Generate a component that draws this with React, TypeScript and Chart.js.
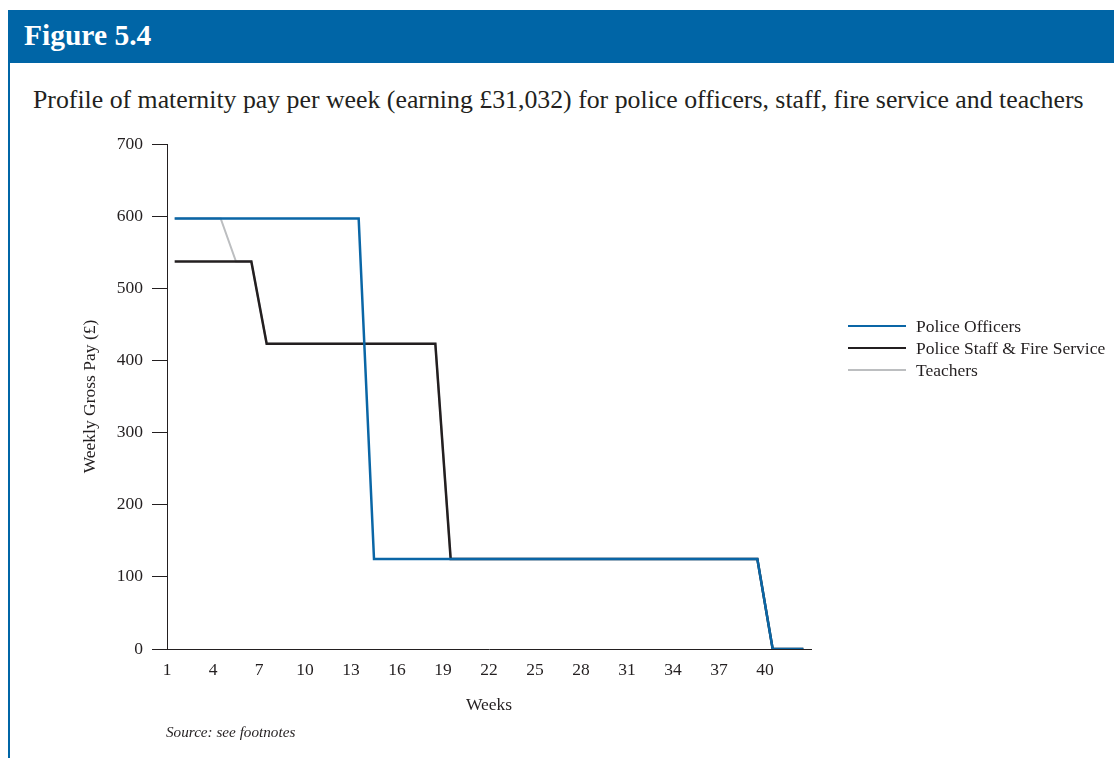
import React, { useEffect, useRef } from "react";
import { Chart, registerables } from "chart.js";

Chart.register(...registerables);

const weeks: number[] = [
  1, 2, 3, 4, 5, 6, 7, 8, 9, 10, 11, 12, 13, 14, 15, 16, 17, 18, 19, 20, 21,
  22, 23, 24, 25, 26, 27, 28, 29, 30, 31, 32, 33, 34, 35, 36, 37, 38, 39, 40,
  41, 42,
];

const policeOfficers: number[] = [
  596.77, 596.77, 596.77, 596.77, 596.77, 596.77, 596.77, 596.77, 596.77,
  596.77, 596.77, 596.77, 596.77, 124.88, 124.88, 124.88, 124.88, 124.88,
  124.88, 124.88, 124.88, 124.88, 124.88, 124.88, 124.88, 124.88, 124.88,
  124.88, 124.88, 124.88, 124.88, 124.88, 124.88, 124.88, 124.88, 124.88,
  124.88, 124.88, 124.88, 0, 0, 0,
];

const policeStaffFire: number[] = [
  537.09, 537.09, 537.09, 537.09, 537.09, 537.09, 423.26, 423.26, 423.26,
  423.26, 423.26, 423.26, 423.26, 423.26, 423.26, 423.26, 423.26, 423.26,
  124.88, 124.88, 124.88, 124.88, 124.88, 124.88, 124.88, 124.88, 124.88,
  124.88, 124.88, 124.88, 124.88, 124.88, 124.88, 124.88, 124.88, 124.88,
  124.88, 124.88, 124.88, 0, 0, 0,
];

const teachers: number[] = [
  596.77, 596.77, 596.77, 596.77, 537.09, 537.09, 423.26, 423.26, 423.26,
  423.26, 423.26, 423.26, 423.26, 423.26, 423.26, 423.26, 423.26, 423.26,
  124.88, 124.88, 124.88, 124.88, 124.88, 124.88, 124.88, 124.88, 124.88,
  124.88, 124.88, 124.88, 124.88, 124.88, 124.88, 124.88, 124.88, 124.88,
  124.88, 124.88, 124.88, 0, 0, 0,
];

const xTickLabels: string[] = [
  "1", "4", "7", "10", "13", "16", "19", "22", "25", "28", "31", "34", "37", "40",
];
const yTickValues: number[] = [0, 100, 200, 300, 400, 500, 600, 700];

const seriesNames: string[] = [
  "Police Officers",
  "Police Staff & Fire Service",
  "Teachers",
];
const seriesColors: string[] = ["#0a66a6", "#231f20", "#bcbec0"];

const FONT = "'Liberation Serif', 'Times New Roman', serif";
const TEXT = "#231f20";
const SMALL = 17.5;

export default function App() {
  const canvasRef = useRef<HTMLCanvasElement | null>(null);

  useEffect(() => {
    if (!canvasRef.current) return;
    const series = [policeOfficers, policeStaffFire, teachers];
    const chart = new Chart(canvasRef.current, {
      type: "line",
      data: {
        datasets: series.map((vals, i) => ({
          label: seriesNames[i],
          data: vals.map((v, k) => ({ x: weeks[k] - 0.5, y: v })),
          borderColor: seriesColors[i],
          backgroundColor: seriesColors[i],
          borderWidth: i === 2 ? 2 : 2.5,
          pointRadius: 0,
          tension: 0,
          fill: false,
        })),
      },
      options: {
        animation: false,
        responsive: false,
        devicePixelRatio: 1,
        layout: { padding: { left: 70, right: 303, top: 144, bottom: 39 } },
        plugins: {
          legend: { display: false },
          tooltip: { enabled: false },
        },
        scales: {
          x: {
            type: "linear",
            min: 0,
            max: weeks.length,
            afterBuildTicks: (scale: any) => {
              scale.ticks = xTickLabels.map((l) => ({ value: Number(l) - 1 }));
            },
            afterFit: (scale: any) => {
              scale.height = 70;
            },
            grid: { display: false },
            border: { display: true, color: "#231f20", width: 1 },
            ticks: {
              autoSkip: false,
              maxRotation: 0,
              padding: 3,
              color: TEXT,
              font: { family: FONT, size: SMALL },
              callback: (v: any) => String(Number(v) + 1),
            },
            title: {
              display: true,
              text: "Weeks",
              color: TEXT,
              font: { family: FONT, size: SMALL },
              padding: { top: 0, bottom: 3 },
            },
          },
          y: {
            min: 0,
            max: 700,
            afterBuildTicks: (scale: any) => {
              scale.ticks = yTickValues.map((v) => ({ value: v }));
            },
            afterFit: (scale: any) => {
              scale.width = 97;
            },
            grid: {
              display: true,
              drawOnChartArea: false,
              drawTicks: true,
              tickLength: 15,
              color: "#231f20",
              lineWidth: 1,
            },
            border: { display: true, color: "#231f20", width: 1 },
            ticks: {
              padding: 9,
              color: TEXT,
              font: { family: FONT, size: SMALL },
            },
            title: {
              display: true,
              text: "Weekly Gross Pay (£)",
              color: TEXT,
              font: { family: FONT, size: SMALL },
              padding: { top: 10, bottom: 0 },
            },
          },
        },
      },
    });
    return () => chart.destroy();
  }, []);

  const legendYs = [326, 348, 370];

  return (
    <div
      style={{
        position: "absolute",
        left: 0,
        top: 0,
        width: 1114,
        height: 758,
        overflow: "hidden",
        background: "#ffffff",
        fontFamily: FONT,
        color: TEXT,
      }}
    >
      <div
        style={{
          position: "absolute",
          left: 8,
          top: 10,
          width: 1106,
          height: 53,
          background: "#0065a6",
        }}
      />
      <div
        style={{
          position: "absolute",
          left: 24,
          top: 13,
          height: 44,
          lineHeight: "44px",
          fontSize: 29.5,
          fontWeight: "bold",
          color: "#ffffff",
        }}
      >
        Figure 5.4
      </div>
      <div
        style={{
          position: "absolute",
          left: 8,
          top: 63,
          width: 2,
          height: 695,
          background: "#0065a6",
        }}
      />
      <div
        style={{
          position: "absolute",
          left: 33,
          top: 83,
          height: 34,
          lineHeight: "34px",
          fontSize: 25.8,
          whiteSpace: "nowrap",
        }}
      >
        Profile of maternity pay per week (earning £31,032) for police officers,
        staff, fire service and teachers
      </div>
      <canvas
        ref={canvasRef}
        width={1114}
        height={758}
        style={{ position: "absolute", left: 0, top: 0, width: 1114, height: 758 }}
      />
      {seriesNames.map((name, i) => (
        <div
          key={name}
          style={{
            position: "absolute",
            left: 848,
            top: legendYs[i] - 11,
            height: 22,
            display: "flex",
            alignItems: "center",
            whiteSpace: "nowrap",
          }}
        >
          <div
            style={{
              width: 58,
              height: i === 2 ? 2 : 2.5,
              background: seriesColors[i],
              marginRight: 10,
            }}
          />
          <span style={{ fontSize: SMALL, lineHeight: "22px" }}>{name}</span>
        </div>
      ))}
      <div
        style={{
          position: "absolute",
          left: 166,
          top: 722,
          height: 20,
          lineHeight: "20px",
          fontSize: 15.2,
          fontStyle: "italic",
          whiteSpace: "nowrap",
        }}
      >
        Source: see footnotes
      </div>
    </div>
  );
}
